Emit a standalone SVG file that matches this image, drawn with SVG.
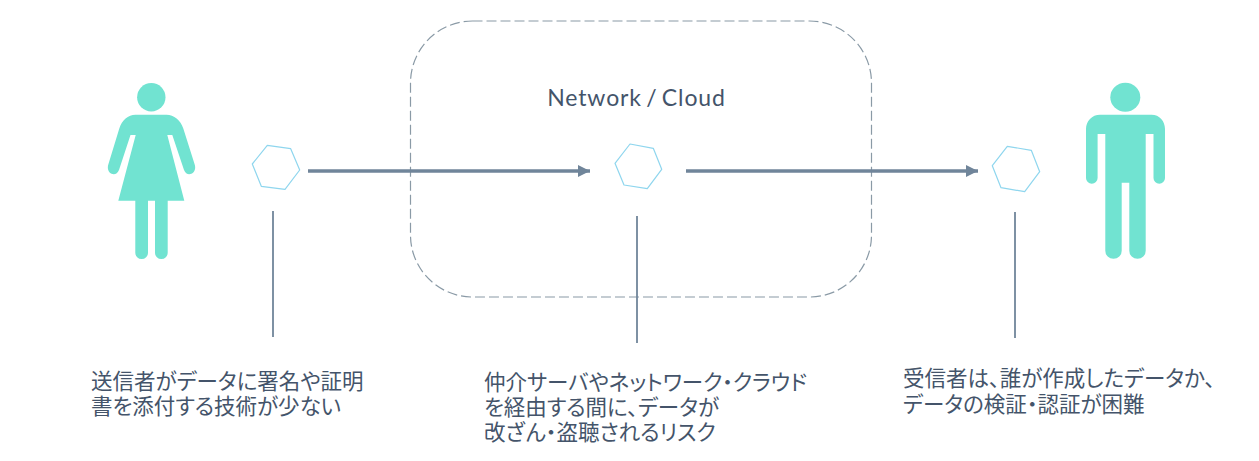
<svg xmlns="http://www.w3.org/2000/svg" width="1259" height="461" viewBox="0 0 1259 461">
<style>
.fig{fill:#71e3d1}
.hex{fill:none;stroke:#8fd6ee;stroke-width:1.2;stroke-linejoin:round}
.flow{fill:none;stroke:#70859a;stroke-width:3.6}
.lead{fill:none;stroke:#70859a;stroke-width:1.8}
.ja{font-family:"Noto Sans CJK JP","Noto Sans",sans-serif;font-size:21.500px;fill:#44546a;font-feature-settings:"palt"}
.lab{font-family:"Lato","Noto Sans",sans-serif;font-size:23px;letter-spacing:.9px;word-spacing:-2.500px;fill:#44546a}
</style>
<defs>
<marker id="ah" markerUnits="userSpaceOnUse" markerWidth="12" markerHeight="14" refX="12" refY="6" orient="auto"><path d="M0 0L12 6L0 12Z" fill="#70859a"/></marker>
</defs>
<g id="cloud">
<rect x="410.500" y="21" width="461" height="276" rx="62" ry="62" fill="none" stroke="#8a9aa6" stroke-width="1.200" stroke-dasharray="10 4"/>
<text class="lab" x="636.500" y="106" text-anchor="middle">Network / Cloud</text>
</g>
<g id="sender">
<circle class="fig" cx="151.300" cy="97.300" r="14.200"/>
<path class="fig" d="M135.500 114.700H166.500C174 114.700 180.500 120 183.300 128.500L194.700 164.500C197.500 173.500 187 178 184 170L172.300 135H167.300L184.300 200.700H167.700V252.700A6.300 6.300 0 0 1 155 252.700V200.700H148V252.700A6.300 6.300 0 0 1 135.300 252.700V200.700H118.300L135.700 135H130.500L119 170C116 178 105.500 173.500 108.300 164.500L119.300 128.500C122 120 128 114.700 135.500 114.700Z"/>
</g>
<g id="receiver">
<ellipse class="fig" cx="1125.300" cy="97.300" rx="15" ry="14.500"/>
<path class="fig" d="M1100 114.700H1151.500C1159.500 114.700 1165 121 1165 129V178A5.700 5.700 0 0 1 1153.500 178V134H1145.700V250.700A8.200 8.200 0 0 1 1129.300 250.700V182.700H1121.700V250.700A8.200 8.200 0 0 1 1105.300 250.700V134H1097.600V178A5.800 5.800 0 0 1 1086 178V129C1086 121 1092 114.700 1100 114.700Z"/>
</g>
<g id="data-sender"><polygon class="hex" points="252.300,164 267.300,145.300 290.700,148.700 299.700,170 285,189.300 261.300,186.300"/></g>
<g id="data-network"><polygon class="hex" points="615,163.300 630,144 653.300,148.300 661.700,169.300 647.300,188.700 624,185"/></g>
<g id="data-receiver"><polygon class="hex" points="992.300,165.700 1007.300,146.300 1031.300,150.300 1039.700,171.700 1024.700,191.700 1001,187.700"/></g>
<g id="connectors">
<line class="flow" x1="308" y1="171" x2="590" y2="171" marker-end="url(#ah)"/>
<line class="flow" x1="686" y1="171" x2="978" y2="171" marker-end="url(#ah)"/>
<line class="lead" x1="273" y1="211" x2="273" y2="337"/>
<line class="lead" x1="637" y1="216" x2="637" y2="343"/>
<line class="lead" x1="1015" y1="212" x2="1015" y2="338"/>
</g>
<g id="note-sender">
<text class="ja" x="91" y="389">送信者がデータに署名や証明</text>
<text class="ja" x="91" y="414">書を添付する技術が少ない</text>
</g>
<g id="note-network">
<text class="ja" x="484" y="390">仲介サーバやネットワーク・クラウド</text>
<text class="ja" x="484" y="415">を経由する間に、データが</text>
<text class="ja" x="484" y="440">改ざん・盗聴されるリスク</text>
</g>
<g id="note-receiver">
<text class="ja" x="903" y="386">受信者は、誰が作成したデータか、</text>
<text class="ja" x="903" y="412">データの検証・認証が困難</text>
</g>
</svg>
